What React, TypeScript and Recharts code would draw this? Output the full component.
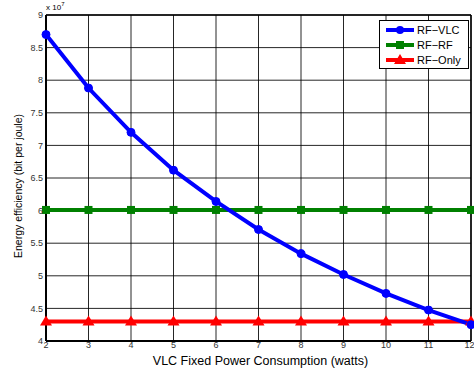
import React from 'react';
import { LineChart, Line, XAxis, YAxis, CartesianGrid, ReferenceLine } from 'recharts';

const powers = [2, 3, 4, 5, 6, 7, 8, 9, 10, 11, 12];
const rfVlc = [8.7, 7.88, 7.2, 6.62, 6.14, 5.71, 5.34, 5.02, 4.73, 4.475, 4.25];
const rfRf = [6.01, 6.01, 6.01, 6.01, 6.01, 6.01, 6.01, 6.01, 6.01, 6.01, 6.01];
const rfOnly = [4.3, 4.3, 4.3, 4.3, 4.3, 4.3, 4.3, 4.3, 4.3, 4.3, 4.3];
const yTicks = [4, 4.5, 5, 5.5, 6, 6.5, 7, 7.5, 8, 8.5, 9];

const data = powers.map((p, i) => ({ p, rfVlc: rfVlc[i], rfRf: rfRf[i], rfOnly: rfOnly[i] }));

const FONT = '"Liberation Sans", Arial, sans-serif';
const BLUE = '#0000ff';
const GREEN = '#008000';
const RED = '#ff0000';

const Square = (props: any) => {
  const { cx, cy, key } = props;
  if (cx == null || cy == null) return <g key={key} />;
  return <rect key={key} x={cx - 4} y={cy - 4} width={8} height={8} fill={GREEN} />;
};

const Triangle = (props: any) => {
  const { cx, cy, key } = props;
  if (cx == null || cy == null) return <g key={key} />;
  return <path key={key} d={`M${cx},${cy - 6} L${cx + 6},${cy + 4} L${cx - 6},${cy + 4} Z`} fill={RED} />;
};

const legendItems = [
  { name: 'RF\u2212VLC', color: BLUE, kind: 'circle' },
  { name: 'RF\u2212RF', color: GREEN, kind: 'square' },
  { name: 'RF\u2212Only', color: RED, kind: 'triangle' },
];

// legend drawn as a plain box over the plot (a recharts Legend would steal plot height)
const LegendBox = () => (
  <div
    style={{
      position: 'absolute',
      left: 379,
      top: 20,
      border: '1px solid #000',
      background: '#fff',
      width: 88,
      padding: '1px 0',
      fontFamily: FONT,
      fontSize: 11,
    }}
  >
    {legendItems.map((it) => (
      <div key={it.name} style={{ display: 'flex', alignItems: 'center', height: 15 }}>
        <svg width={30} height={14} style={{ marginLeft: 5 }}>
          <line x1={1} y1={7} x2={29} y2={7} stroke={it.color} strokeWidth={4} />
          {it.kind === 'circle' && <circle cx={15} cy={7} r={4} fill={it.color} />}
          {it.kind === 'square' && <rect x={11} y={3} width={8} height={8} fill={it.color} />}
          {it.kind === 'triangle' && <path d="M15,1 L21,11 L9,11 Z" fill={it.color} />}
        </svg>
        <span style={{ marginLeft: 2, color: '#000' }}>{it.name}</span>
      </div>
    ))}
  </div>
);

export default function App() {
  return (
    <div style={{ position: 'absolute', left: 0, top: 0, width: 474, height: 371, background: '#fff' }}>
      <LineChart
        width={474}
        height={371}
        data={data}
        margin={{ top: 15, right: 3, left: 0, bottom: 0 }}
      >
        <CartesianGrid stroke="#000" strokeWidth={1} strokeOpacity={0.85} />
        <XAxis
          dataKey="p"
          type="number"
          domain={[2, 12]}
          ticks={powers}
          height={30}
          tickLine={false}
          tickSize={1}
          tickMargin={0}
          axisLine={{ stroke: '#000', strokeWidth: 2 }}
          tick={{ fontSize: 9, fill: '#333', fontFamily: FONT }}
          label={{
            value: 'VLC Fixed Power Consumption (watts)',
            position: 'insideBottom',
            offset: 6,
            dx: 2,
            style: { fontSize: 12.5, fill: '#000', fontFamily: FONT },
          }}
        />
        <YAxis
          type="number"
          domain={[4, 9]}
          ticks={yTicks}
          width={46}
          tickLine={false}
          tickSize={2}
          tickMargin={1}
          axisLine={{ stroke: '#000', strokeWidth: 2 }}
          tick={{ fontSize: 9, fill: '#333', fontFamily: FONT }}
          label={{
            value: 'Energy efficiency (bit per joule)',
            angle: -90,
            position: 'insideLeft',
            offset: 18,
            dy: 8,
            style: { fontSize: 10.5, fill: '#000', fontFamily: FONT, textAnchor: 'middle' },
          }}
        />
        <ReferenceLine y={9} stroke="#000" strokeWidth={1.5} />
        <ReferenceLine x={12} stroke="#000" strokeWidth={1.5} />
        <Line
          dataKey="rfOnly"
          stroke={RED}
          strokeWidth={4}
          dot={Triangle}
          activeDot={false}
          isAnimationActive={false}
        />
        <Line
          dataKey="rfRf"
          stroke={GREEN}
          strokeWidth={4}
          dot={Square}
          activeDot={false}
          isAnimationActive={false}
        />
        <Line
          dataKey="rfVlc"
          stroke={BLUE}
          strokeWidth={4}
          dot={{ r: 4, fill: BLUE, stroke: BLUE, strokeWidth: 1 }}
          activeDot={false}
          isAnimationActive={false}
        />
      </LineChart>
      <LegendBox />
      <div
        style={{
          position: 'absolute',
          left: 46,
          top: 1,
          fontFamily: FONT,
          fontSize: 8,
          color: '#000',
        }}
      >
        x 10<sup style={{ fontSize: 6, verticalAlign: 'super' }}>7</sup>
      </div>
    </div>
  );
}
